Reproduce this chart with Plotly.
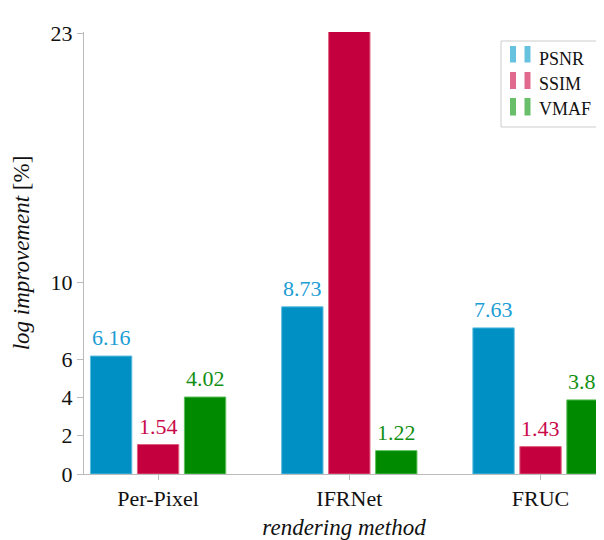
import plotly.graph_objects as go

categories = ["Per-Pixel", "IFRNet", "FRUC"]
psnr = [6.16, 8.73, 7.63]
ssim = [1.54, 23.16, 1.43]
vmaf = [4.02, 1.22, 3.87]
series_names = ["PSNR", "SSIM", "VMAF"]
ytick_vals = [0, 2, 4, 6, 10, 23]

bar_colors = ["#0090c4", "#c4003e", "#008a00"]
edge_colors = ["#5cbde0", "#e0607f", "#5cc05c"]
text_colors = ["#1c9dd4", "#c80a4a", "#138f13"]
legend_colors = ["#66c2df", "#e06b8e", "#69bf69"]

FONT = "Liberation Serif"
OFF = 8  # page body margin
W, H = 604 - OFF, 540 - OFF
ML, MR, MT, MB = 84 - OFF, 0, 32 - OFF, 66
PW, PH = W - ML - MR, H - MT - MB

fig = go.Figure()
all_series = [psnr, ssim, vmaf]
for name, vals, c, ec in zip(series_names, all_series, bar_colors, edge_colors):
    fig.add_trace(go.Bar(
        x=categories, y=vals, name=name, showlegend=False,
        marker=dict(color=c, line=dict(color=ec, width=1)),
    ))

# value labels above bars
pitch = 47
for i, (vals, tc) in enumerate(zip(all_series, text_colors)):
    for cat, v in zip(categories, vals):
        fig.add_annotation(
            x=cat, y=v, text=f"{v:.2f}", showarrow=False,
            xshift=(i - 1) * pitch, yshift=4, yanchor="bottom",
            font=dict(family=FONT, size=22, color=tc),
        )

# manual legend (page pixel coords -> paper)
def px(x):
    return (x - OFF - ML) / PW

def py(y):
    return (H - MB - (y - OFF)) / PH

fig.add_shape(type="rect", xref="paper", yref="paper",
              x0=px(501), x1=px(601), y0=py(127), y1=py(41),
              line=dict(color="#cccccc", width=1), fillcolor="white")
rows = [(46, 62.5, 58.5), (72, 89, 83.5), (98, 115.5, 109)]
for (top, bot, tc_y), name, lc in zip(rows, series_names, legend_colors):
    for bx in (510, 524.5):
        fig.add_shape(type="rect", xref="paper", yref="paper",
                      x0=px(bx), x1=px(bx + 6), y0=py(bot), y1=py(top),
                      line=dict(width=0), fillcolor=lc)
    fig.add_annotation(xref="paper", yref="paper", x=px(537), y=py(tc_y),
                       text=name, showarrow=False, xanchor="left", yanchor="middle",
                       font=dict(family=FONT, size=18, color="#111111"))

fig.update_layout(
    width=W, height=H,
    margin=dict(l=ML, r=MR, t=MT, b=MB),
    plot_bgcolor="white", paper_bgcolor="white",
    barmode="group", bargap=0.263, bargroupgap=0.12,
    font=dict(family=FONT, size=21, color="#111111"),
    showlegend=False,
)
fig.update_xaxes(
    range=[-0.3875, 2.332],
    showline=True, linecolor="#bbbbbb", linewidth=1,
    ticks="outside", ticklen=5, tickcolor="#bbbbbb",
    tickfont=dict(family=FONT, size=22),
    title=dict(text="<i>rendering method</i>", font=dict(family=FONT, size=23), standoff=9),
    showgrid=False, zeroline=False,
)
fig.update_yaxes(
    range=[0, PH / 19.15],
    tickvals=ytick_vals, ticktext=[str(v) for v in ytick_vals],
    showline=True, linecolor="#bbbbbb", linewidth=1,
    ticks="outside", ticklen=6, tickcolor="#bbbbbb",
    tickfont=dict(family=FONT, size=22),
    title=dict(text="<i>log improvement</i> [%]", font=dict(family=FONT, size=23), standoff=14),
    showgrid=False, zeroline=False,
)

fig.write_html("out.html")
